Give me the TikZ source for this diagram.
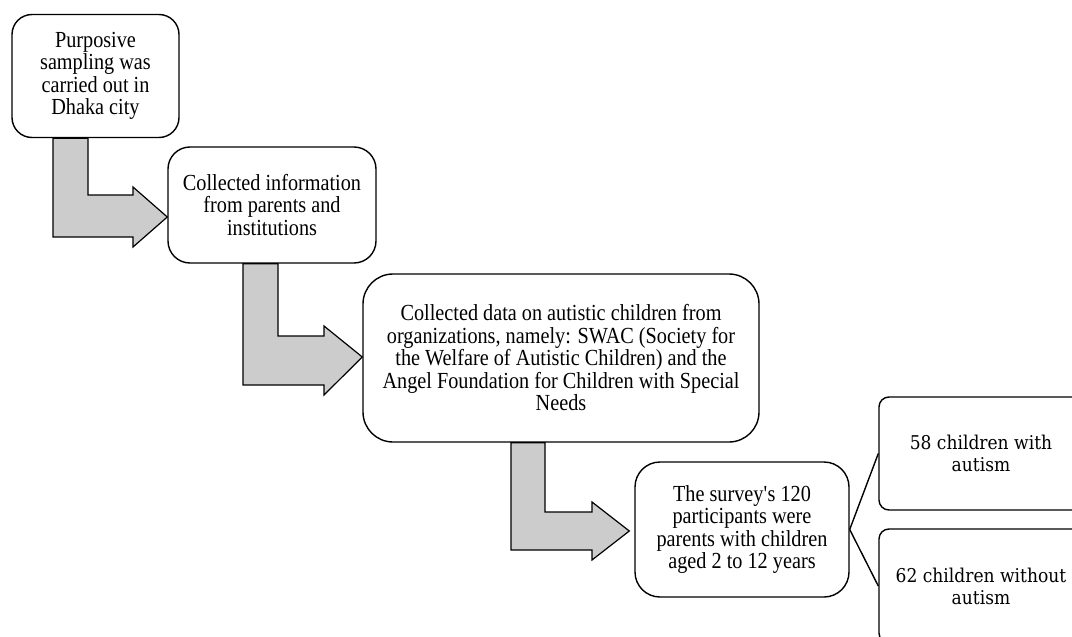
\documentclass[tikz,border=0pt]{standalone}
\usepackage{fontspec}
\setmainfont{Liberation Serif}[FakeStretch=0.88]
\newfontfamily\cambfont{DejaVu Serif}[FakeStretch=0.9]
\begin{document}
\begin{tikzpicture}[x=1pt,y=-1pt,
  box/.style={draw, line width=1.4pt, rounded corners=#1, align=center,
    inner sep=0pt, font=\fontsize{23}{22.5}\selectfont},
  box/.default=20pt,
  sidebox/.style={draw, line width=1.4pt, rounded corners=10pt, align=center,
    inner sep=0pt, minimum width=204pt, font=\cambfont\fontsize{19}{22}\selectfont},
  bentarrow/.style={draw, line width=1.2pt, fill=gray!40, line join=miter},
  link/.style={draw, line width=1.4pt}]
\clip (0,0) rectangle (1072,637);
\fill[white] (0,0) rectangle (1072,637);

\node[box=20pt, minimum width=167pt, minimum height=123pt] (b1) at (95.5,76)
  {Purposive\\sampling was\\carried out in\\Dhaka city};
\node[box=22pt, minimum width=208pt, minimum height=116pt] (b2) at (272,205)
  {Collected information\\from parents and\\institutions};
\node[box=30pt, minimum width=396pt, minimum height=168pt] (b3) at (561,358)
  {Collected data on autistic children from\\organizations, namely: SWAC (Society for\\the Welfare of Autistic Children) and the\\Angel Foundation for Children with Special\\Needs};
\node[box=25pt, minimum width=214pt, minimum height=135pt] (b4) at (742,529.5)
  {The survey\textquotesingle s 120\\participants were\\parents with children\\aged 2 to 12 years};
\node[sidebox, minimum height=113pt] (b5) at (981,453.5) {58 children with\\autism};
\node[sidebox, minimum height=114pt] (b6) at (981,586) {62 children without\\autism};

% bent arrows
\path[bentarrow] (b1.south -| 53,0) -- (53,237) -- (133,237) -- (133,247)
  -- (b2.west |- 0,217) -- (133,187) -- (133,195) -- (88,195) -- (b1.south -| 88,0) -- cycle;
\path[bentarrow] (b2.south -| 243,0) -- (243,385) -- (324,385) -- (324,395)
  -- (b3.west |- 0,357) -- (324,326) -- (324,336) -- (278,336) -- (b2.south -| 278,0) -- cycle;
\path[bentarrow] (b3.south -| 511,0) -- (511,550) -- (592,550) -- (592,560)
  -- ([xshift=-5pt]b4.west |- 0,531) -- (592,502) -- (592,512) -- (545,512) -- (b3.south -| 545,0) -- cycle;

% links
\path[link] (b4.east) -- (b5.west);
\path[link] (b4.east) -- (b6.west);
\end{tikzpicture}
\end{document}
